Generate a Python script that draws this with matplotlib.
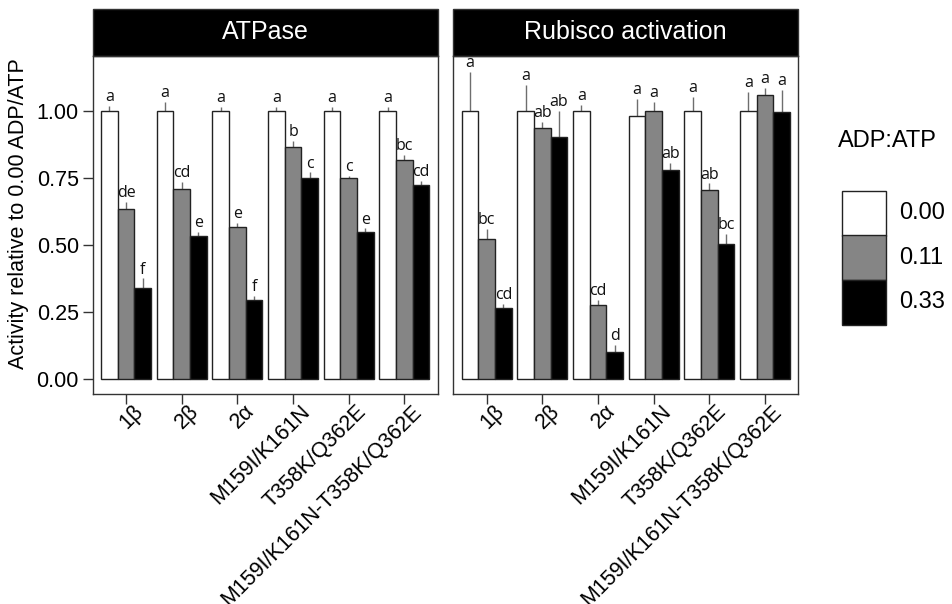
import numpy as np
import matplotlib
matplotlib.use("Agg")
import matplotlib.pyplot as plt
from matplotlib.patches import Rectangle
from matplotlib.transforms import ScaledTranslation

plt.rcParams['font.family'] = ['Liberation Sans', 'DejaVu Sans']

# Categories and treatment levels
genotypes = ["1β", "2β", "2α", "M159I/K161N", "T358K/Q362E", "M159I/K161N-T358K/Q362E"]
ratios = ["0.00", "0.11", "0.33"]
fill_colors = ["#ffffff", "#858585", "#000000"]

# ATPase activity (relative to 0.00 ADP/ATP)
atp_000 = [1.00, 1.00, 1.00, 1.00, 1.00, 1.00]
atp_011 = [0.634, 0.709, 0.568, 0.866, 0.751, 0.817]
atp_033 = [0.341, 0.535, 0.295, 0.751, 0.550, 0.724]
atp_err_000 = [0.020, 0.035, 0.016, 0.016, 0.016, 0.016]
atp_err_011 = [0.028, 0.027, 0.015, 0.022, 0.006, 0.019]
atp_err_033 = [0.035, 0.015, 0.015, 0.020, 0.012, 0.016]
atp_let_000 = ["a", "a", "a", "a", "a", "a"]
atp_let_011 = ["de", "cd", "e", "b", "c", "bc"]
atp_let_033 = ["f", "e", "f", "c", "e", "cd"]

# Rubisco activation (relative to 0.00 ADP/ATP)
rub_000 = [1.00, 1.00, 1.00, 0.982, 1.00, 1.00]
rub_011 = [0.521, 0.935, 0.276, 1.00, 0.705, 1.06]
rub_033 = [0.267, 0.903, 0.102, 0.779, 0.505, 0.995]
rub_err_000 = [0.147, 0.097, 0.022, 0.062, 0.053, 0.072]
rub_err_011 = [0.038, 0.023, 0.019, 0.035, 0.025, 0.025]
rub_err_033 = [0.015, 0.097, 0.025, 0.028, 0.038, 0.083]
rub_let_000 = ["a", "a", "a", "a", "a", "a"]
rub_let_011 = ["bc", "ab", "cd", "a", "ab", "a"]
rub_let_033 = ["cd", "ab", "d", "ab", "bc", "a"]

panels = [
    ("ATPase", [atp_000, atp_011, atp_033], [atp_err_000, atp_err_011, atp_err_033],
     [atp_let_000, atp_let_011, atp_let_033]),
    ("Rubisco activation", [rub_000, rub_011, rub_033], [rub_err_000, rub_err_011, rub_err_033],
     [rub_let_000, rub_let_011, rub_let_033]),
]

W, H = 953, 604
fig = plt.figure(figsize=(W / 100, H / 100), dpi=100)

line_col = "#333333"
bar_w = 0.3
offsets = [-0.3, 0.0, 0.3]
x = np.arange(len(genotypes))

ax_lefts = [92.7, 453.3]
ax_w = 345.0
ax_bottom, ax_top = 394.0, 56.0
strip_top = 8.5

for i, (title, means, errs, letters) in enumerate(panels):
    ax = fig.add_axes([ax_lefts[i] / W, 1 - ax_bottom / H, ax_w / W, (ax_bottom - ax_top) / H])
    for k in range(3):
        xs = x + offsets[k]
        ax.errorbar(xs, means[k], yerr=errs[k], fmt="none", ecolor="#6e6e6e",
                    elinewidth=1.0, capsize=0, zorder=1)
        ax.bar(xs, means[k], width=bar_w, color=fill_colors[k], edgecolor="#222222",
               linewidth=1.0, zorder=2)
        for xi, m, e, lab in zip(xs, means[k], errs[k], letters[k]):
            ax.text(xi, m + e + 0.003, lab, ha="center", va="bottom",
                    fontsize=11.5, family=["Open Sans", "DejaVu Sans"], color="#111111")
    ax.set_xlim(-0.6, len(genotypes) - 0.4)
    ax.set_ylim(-0.055, 1.205)
    ax.set_xticks(x)
    ax.set_xticklabels(genotypes, rotation=45, ha="right", va="top",
                       rotation_mode="anchor", fontsize=15.5)
    ax.tick_params(axis="x", length=7, width=1.0, color=line_col, pad=-2)
    shift = ScaledTranslation(0.065, 0.0, fig.dpi_scale_trans)
    for lbl in ax.get_xticklabels():
        lbl.set_transform(lbl.get_transform() + shift)
    if i == 0:
        ax.set_yticks([0, 0.25, 0.5, 0.75, 1.0])
        ax.set_yticklabels(["0.00", "0.25", "0.50", "0.75", "1.00"], fontsize=15.5)
        ax.tick_params(axis="y", length=7, width=1.0, color=line_col, pad=3)
    else:
        ax.set_yticks([])
    for s in ax.spines.values():
        s.set_color(line_col)
        s.set_linewidth(1.0)
    # facet strip above the panel
    strip_h = (ax_top - strip_top) / (ax_bottom - ax_top)
    ax.add_patch(Rectangle((0, 1), 1, strip_h, transform=ax.transAxes, clip_on=False,
                           facecolor="black", edgecolor=line_col, linewidth=1.0))
    ax.text(0.5, 1 + strip_h / 2, title, transform=ax.transAxes, ha="center", va="center",
            color="white", fontsize=18)

fig.text(19 / W, 1 - 214 / H, "Activity relative to 0.00 ADP/ATP", rotation=90,
         ha="center", va="center", fontsize=15.5)

# legend
fig.text(838 / W, 1 - 141 / H, "ADP:ATP", ha="left", va="center", fontsize=17)
key_x, key_w, key_h, key_top = 842, 44, 44.5, 191
for k, lab in enumerate(ratios):
    top = key_top + k * key_h
    fig.add_artist(Rectangle((key_x / W, 1 - (top + key_h) / H), key_w / W, key_h / H,
                             transform=fig.transFigure, facecolor=fill_colors[k],
                             edgecolor="#222222", linewidth=1.0))
    fig.text(899 / W, 1 - (top + key_h / 2) / H, lab, ha="left", va="center", fontsize=17)

fig.savefig("out.png", dpi=100)
